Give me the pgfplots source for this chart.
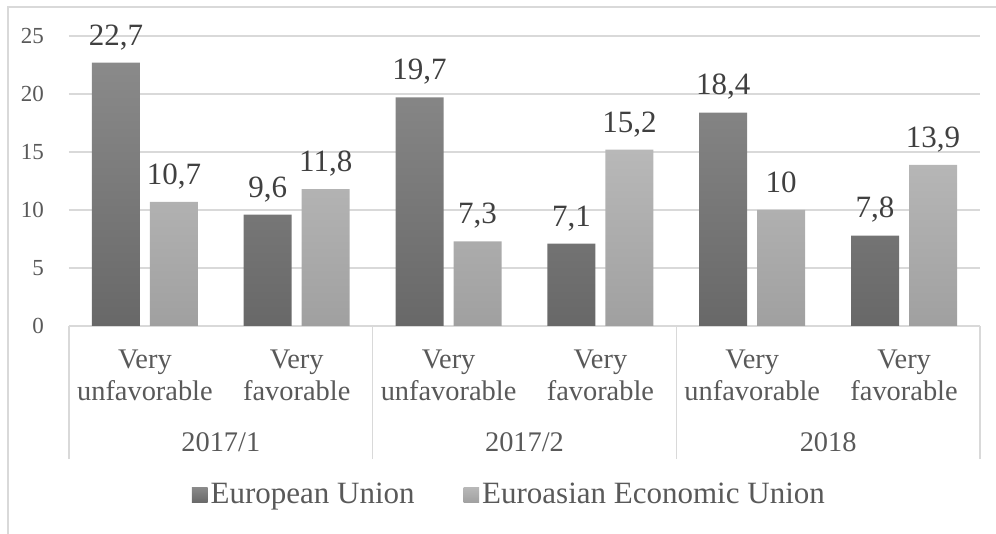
\documentclass[border=0pt]{standalone}
\usepackage{pgfplots}
\pgfplotsset{compat=1.18}
\usepackage{fontspec}
\setmainfont{Liberation Serif}

\definecolor{gridc}{HTML}{D9D9D9}
\definecolor{txt}{HTML}{595959}
\definecolor{lbl}{HTML}{404040}
\definecolor{euTop}{HTML}{8A8A8A}
\definecolor{euBot}{HTML}{686868}
\definecolor{eeuTop}{HTML}{B8B8B8}
\definecolor{eeuBot}{HTML}{A0A0A0}

\begin{document}
\begin{tikzpicture}
\useasboundingbox (0,0) rectangle (498pt,267pt);
% chart frame (cropped on the right and bottom)
\draw[gridc, line width=0.75pt] (4pt,0) -- (4pt,263.5pt) -- (498pt,263.5pt);
\begin{axis}[
    at={(34.5pt,104pt)}, anchor=south west,
    scale only axis,
    width=455.5pt, height=145pt,
    ybar=5pt, bar width=24pt,
    xmin=-0.5, xmax=5.5,
    ymin=0, ymax=25,
    ytick={0,5,...,25},
    xtick=data,
    xticklabels={Very\\unfavorable, Very\\favorable, Very\\unfavorable, Very\\favorable, Very\\unfavorable, Very\\favorable},
    xticklabel style={align=center, anchor=north, inner sep=0pt, yshift=-12pt,
        font=\fontsize{14.2}{16}\selectfont, text=txt},
    yticklabel style={font=\fontsize{11.5}{13}\selectfont, text=txt, anchor=east, xshift=-9pt},
    ymajorgrids, grid style={gridc, line width=0.75pt},
    axis x line=bottom, axis y line=left, axis line style={-},
    x axis line style={draw=gridc, line width=0.75pt},
    y axis line style={draw=none},
    major tick length=0pt,
    tick style={draw=none},
    extra x ticks={-0.5,1.5,3.5,5.5},
    extra x tick labels={,,,},
    extra x tick style={major tick length=66.5pt, tick align=outside,
        tick style={draw=gridc, line width=0.75pt}, grid=none},
    /pgf/number format/use comma,
    /pgf/number format/assume math mode=true,
    nodes near coords,
    every node near coord/.append style={anchor=base, inner sep=0pt, yshift=8.8pt,
        font=\fontsize{15.5}{18}\selectfont, text=lbl},
    legend style={at={(0.484,-0.583)}, anchor=center, draw=none, fill=none,
        legend columns=2, font=\fontsize{15.5}{18}\selectfont, text=txt,
        /tikz/every even column/.append style={column sep=23pt},
        nodes={inner sep=1.5pt}},
    legend image code/.code={\path[#1, draw=none] (0pt,-3.9pt) rectangle (7.8pt,3.9pt);},
    clip=false,
]
\addplot[draw=none, top color=euTop, bottom color=euBot] coordinates
    {(0,22.7) (1,9.6) (2,19.7) (3,7.1) (4,18.4) (5,7.8)};
\addplot[draw=none, top color=eeuTop, bottom color=eeuBot] coordinates
    {(0,10.7) (1,11.8) (2,7.3) (3,15.2) (4,10) (5,13.9)};
\legend{European Union, Euroasian Economic Union}
\node[anchor=base, font=\fontsize{14.2}{16}\selectfont, text=txt, yshift=-63pt] at (axis cs:0.5,0) {2017/1};
\node[anchor=base, font=\fontsize{14.2}{16}\selectfont, text=txt, yshift=-63pt] at (axis cs:2.5,0) {2017/2};
\node[anchor=base, font=\fontsize{14.2}{16}\selectfont, text=txt, yshift=-63pt] at (axis cs:4.5,0) {2018};
\end{axis}
\end{tikzpicture}
\end{document}
